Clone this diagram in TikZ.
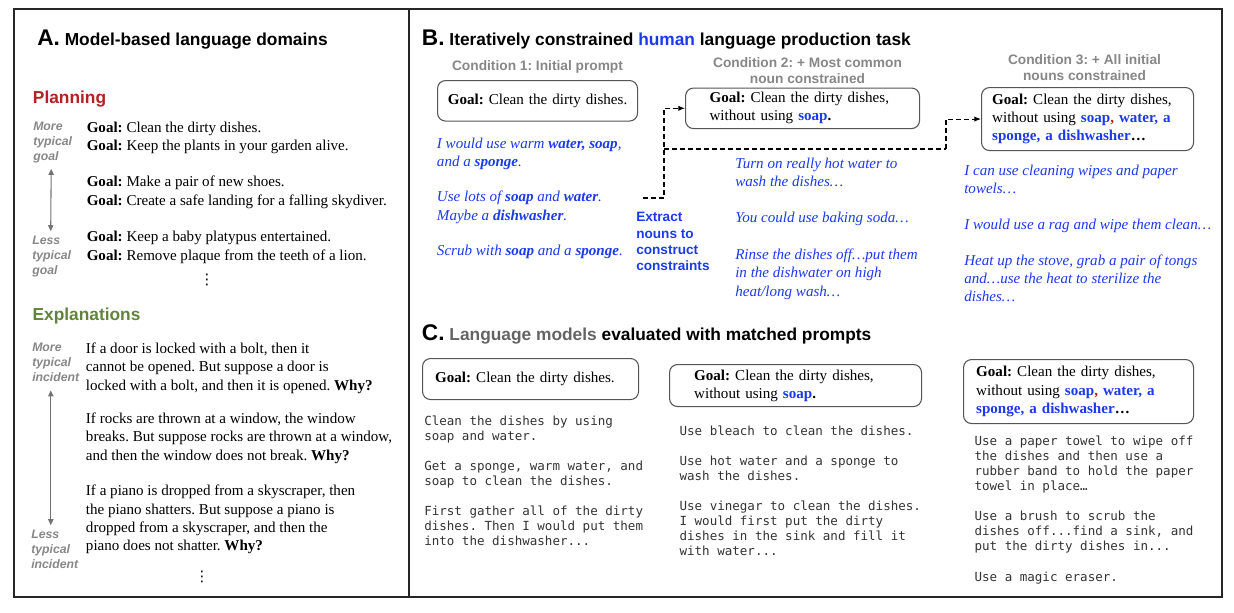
\documentclass[tikz,border=0pt]{standalone}
\usepackage{fontspec}
\setmainfont{Liberation Serif}
\setsansfont{Liberation Sans}
\setmonofont{DejaVu Sans Mono}
\newfontfamily\dotsfont{DejaVu Sans}
\usetikzlibrary{arrows.meta,calc}
\frenchspacing

\definecolor{planred}{RGB}{178,34,34}
\definecolor{explgreen}{RGB}{96,132,60}
\definecolor{humanblue}{RGB}{28,58,235}
\definecolor{labelgray}{RGB}{135,135,135}
\definecolor{lmgray}{RGB}{100,100,100}
\definecolor{boxgray}{RGB}{85,85,85}

\begin{document}
\begin{tikzpicture}[
  x=0.75pt,
  y=-0.75pt,
  % multi-line nodes: base = baseline of the last line
  every node/.style={inner sep=0pt, anchor=base west},
  panel/.style={draw=black!85, line width=1pt},
  heading/.style={font=\sffamily\bfseries\fontsize{13}{15}\selectfont},
  topic/.style={font=\sffamily\bfseries\fontsize{13}{15}\selectfont},
  scalelabel/.style={align=left, text=labelgray, font=\sffamily\bfseries\itshape\fontsize{9.2}{10.9}\selectfont},
  scalearrow/.style={{Triangle[length=4.5pt,width=4pt]}-{Triangle[length=4.5pt,width=4pt]}, draw=black!55, line width=0.8pt},
  moredots/.style={anchor=center, font=\dotsfont\fontsize{11}{11}\selectfont},
  prose/.style={align=left, font=\fontsize{11.3}{13.6}\selectfont},
  reply/.style={align=left, text=humanblue, font=\fontsize{11.3}{13.6}\selectfont\itshape},
  condition/.style={anchor=base, align=center, text=labelgray, font=\sffamily\bfseries\fontsize{10.3}{11.8}\selectfont},
  prompt/.style={draw=boxgray, rounded corners=6pt, line width=0.8pt, anchor=north west, align=left, font=\fontsize{11.3}{13.6}\selectfont},
  model/.style={align=left, text=black!80, font=\ttfamily\fontsize{9.4}{11.25}\selectfont},
  flow/.style={-{Latex[length=5pt,width=4pt]}, line width=0.8pt, dash pattern=on 3.5pt off 2.5pt},
  flowline/.style={line width=0.8pt, dash pattern=on 3.5pt off 2.5pt}
]
  \useasboundingbox (0,0) rectangle (1234,612);

  % frames
  \draw[panel] (14,9) rectangle (1222,597);
  \draw[panel, line width=1.4pt] (409,9) -- (409,597);

  % A. model-based domains
  \node[heading] (titleA) at (37,45) {{\fontsize{17}{17}\selectfont A.} Model-based language domains};

  \node[topic, text=planred] (planHead) at (32.7,103.3) {Planning};
  \node[scalelabel] (moreGoal) at (33,160) {More\\typical\\goal};
  \node[scalelabel] (lessGoal) at (32,274) {Less\\typical\\goal};
  \draw[scalearrow] ($(moreGoal.south)+(-1.5,6)$) -- ($(lessGoal.north)+(-1,-5)$);
  \node[prose] (goalsTop) at (86.5,150.5) {\textbf{Goal:} Clean the dirty dishes.\\ \textbf{Goal:} Keep the plants in your garden alive.};
  \node[prose] (goalsMid) at (86.5,205) {\textbf{Goal:} Make a pair of new shoes.\\ \textbf{Goal:} Create a safe landing for a falling skydiver.};
  \node[prose] (goalsLow) at (86.5,260) {\textbf{Goal:} Keep a baby platypus entertained.\\ \textbf{Goal:} Remove plaque from the teeth of a lion.};
  \node[moredots] (goalDots) at (207,279.5) {⋮};

  \node[topic, text=explgreen] (explHead) at (32.3,320.7) {Explanations};
  \node[scalelabel] (moreInc) at (32,381) {More\\typical\\incident};
  \node[scalelabel] (lessInc) at (31,568) {Less\\typical\\incident};
  \draw[scalearrow] ($(moreInc.south)+(-5,9)$) -- ($(lessInc.north)+(-4,-5)$);
  \node[prose] (incDoor) at (85.7,390) {If a door is locked with a bolt, then it\\ cannot be opened. But suppose a door is\\ locked with a bolt, and then it is opened. \textbf{Why?}};
  \node[prose] (incRocks) at (85.7,460) {If rocks are thrown at a window, the window\\ breaks. But suppose rocks are thrown at a window,\\ and then the window does not break. \textbf{Why?}};
  \node[prose] (incPiano) at (85.7,550.3) {If a piano is dropped from a skyscraper, then\\ the piano shatters. But suppose a piano is\\ dropped from a skyscraper, and then the\\ piano does not shatter. \textbf{Why?}};
  \node[moredots] (incDots) at (202,577) {⋮};

  % B. human production task
  \node[heading] (titleB) at (421.7,45) {{\fontsize{17}{17}\selectfont B.} Iteratively constrained {\color{humanblue}human} language production task};

  \node[condition] (condOne) at (537.5,70) {Condition 1: Initial prompt};
  \node[condition] (condTwo) at (807.5,83.3) {Condition 2: + Most common\\noun constrained};
  \node[condition] (condThree) at (1084.5,80) {Condition 3: + All initial\\nouns constrained};

  \node[prompt, align=center, inner xsep=4pt, text width=142pt, minimum height=30.4pt] (promptOne) at (437,80)
    {\textbf{Goal:} Clean the dirty dishes.};
  \node[prompt, inner xsep=18pt, text width=139.5pt, minimum height=30.4pt] (promptTwo) at (685,87.5)
    {\textbf{Goal:} Clean the dirty dishes,\\ without using \textbf{{\color{humanblue}soap}.}};
  \node[prompt, inner xsep=8pt, text width=143pt, minimum height=47.25pt] (promptThree) at (981,87)
    {\textbf{Goal:} Clean the dirty dishes,\\ without using \textbf{{\color{humanblue}soap}{\color{planred},} {\color{humanblue}water, a}}\\ \textbf{{\color{humanblue}sponge, a dishwasher}…}};

  \node[reply] (oneA) at (436.7,166.7) {I would use warm \textbf{water, soap},\\ and a \textbf{sponge}.};
  \node[reply] (oneB) at (436.7,220) {Use lots of \textbf{soap} and \textbf{water}.\\ Maybe a \textbf{dishwasher}.};
  \node[reply] (oneC) at (436.7,255) {Scrub with \textbf{soap} and a \textbf{sponge}.};

  \node[reply] (twoA) at (735,186.7) {Turn on really hot water to\\ wash the dishes…};
  \node[reply] (twoB) at (735,222.3) {You could use baking soda…};
  \node[reply] (twoC) at (735,296) {Rinse the dishes off…put them\\ in the dishwater on high\\ heat/long wash…};

  \node[reply] (threeA) at (964,193.3) {I can use cleaning wipes and paper\\ towels…};
  \node[reply] (threeB) at (964,229.3) {I would use a rag and wipe them clean…};
  \node[reply] (threeC) at (964,301.7) {Heat up the stove, grab a pair of tongs\\ and…use the heat to sterilize the\\ dishes…};

  \node[align=left, text=humanblue, font=\sffamily\bfseries\fontsize{10.2}{12.2}\selectfont] (extract) at (636,270.7)
    {Extract\\nouns to\\construct\\constraints};

  \coordinate (extractTap) at (643,198);
  \coordinate (splitB) at (664,149);
  \coordinate (turnC) at (946,149);
  \draw[flow] (extractTap) -- (extractTap -| splitB) |- (promptTwo.west);
  \draw[flowline] (splitB) -- (turnC);
  \draw[flow] (turnC) |- (promptThree.west);

  % C. language models
  \node[heading] (titleC) at (421.7,340.7) {{\fontsize{17}{17}\selectfont C.} {\color{lmgray}Language models} evaluated with matched prompts};

  \node[prompt, inner xsep=9.5pt, text width=143pt, minimum height=30.75pt] (lmPromptOne) at (422,358)
    {\textbf{Goal:} Clean the dirty dishes.};
  \node[prompt, inner xsep=18.5pt, text width=152pt, minimum height=31.5pt] (lmPromptTwo) at (669,364)
    {\textbf{Goal:} Clean the dirty dishes,\\ without using \textbf{{\color{humanblue}soap}.}};
  \node[prompt, inner xsep=9.5pt, text width=153.5pt, minimum height=48pt] (lmPromptThree) at (963,359)
    {\textbf{Goal:} Clean the dirty dishes,\\ without using \textbf{{\color{humanblue}soap}{\color{planred},} {\color{humanblue}water, a}}\\ \textbf{{\color{humanblue}sponge, a dishwasher}…}};

  \node[model] (lmOneA) at (424,440) {Clean the dishes by using\\soap and water.};
  \node[model] (lmOneB) at (424,485) {Get a sponge, warm water, and\\soap to clean the dishes.};
  \node[model] (lmOneC) at (424,545.7) {First gather all of the dirty\\dishes. Then I would put them\\into the dishwasher...};

  \node[model] (lmTwoA) at (679.3,435.7) {Use bleach to clean the dishes.};
  \node[model] (lmTwoB) at (679.3,480.7) {Use hot water and a sponge to\\wash the dishes.};
  \node[model] (lmTwoC) at (679.3,555.7) {Use vinegar to clean the dishes.\\I would first put the dirty\\dishes in the sink and fill it\\with water...};

  \node[model] (lmThreeA) at (974.3,490.7) {Use a paper towel to wipe off\\the dishes and then use a\\rubber band to hold the paper\\towel in place…};
  \node[model] (lmThreeB) at (974.3,550.7) {Use a brush to scrub the\\dishes off...find a sink, and\\put the dirty dishes in...};
  \node[model] (lmThreeC) at (974.3,581.7) {Use a magic eraser.};
\end{tikzpicture}
\end{document}
